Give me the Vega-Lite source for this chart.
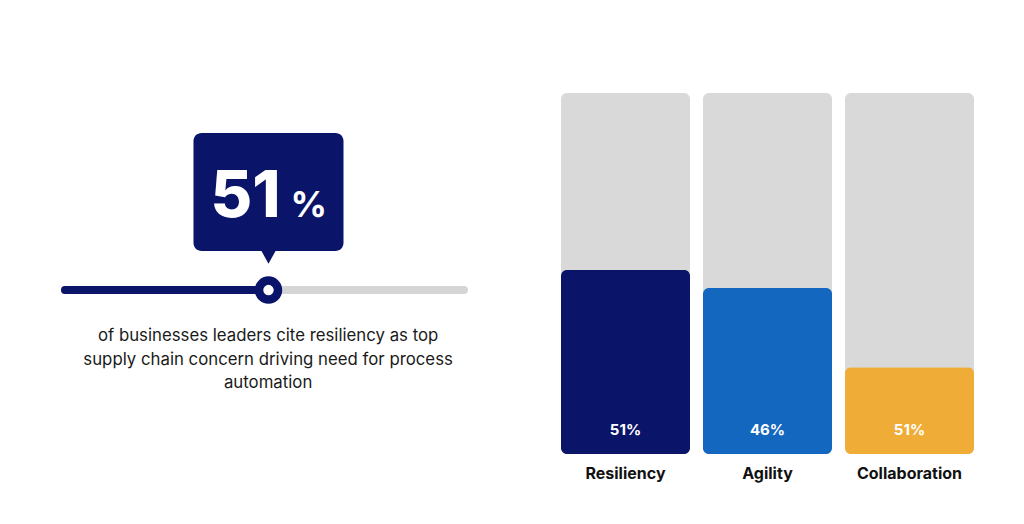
{
  "$schema": "https://vega.github.io/schema/vega-lite/v6.json",
  "background": "#ffffff",
  "padding": {"left": 60, "top": 93, "right": 50, "bottom": 20},
  "spacing": 92,
  "config": {"view": {"stroke": null}, "font": "Inter"},
  "hconcat": [
    {
      "width": 407,
      "height": 361,
      "data": {"values": [{"metric": "Resiliency", "value": 51, "caption": "of businesses leaders cite resiliency as top\nsupply chain concern driving need for process\nautomation"}]},
      "layer": [
        {
          "mark": {"type": "rule", "strokeWidth": 8, "strokeCap": "round", "color": "#D5D5D5"},
          "encoding": {
            "x": {"datum": 0, "type": "quantitative", "scale": {"domain": [-1, 101]}, "axis": null},
            "x2": {"datum": 100},
            "y": {"datum": 45.4, "type": "quantitative", "scale": {"domain": [0, 100]}, "axis": null}
          }
        },
        {
          "mark": {"type": "rule", "strokeWidth": 8, "strokeCap": "round", "color": "#0A1469"},
          "encoding": {
            "x": {"field": "value", "type": "quantitative", "scale": {"domain": [-1, 101]}, "axis": null},
            "x2": {"datum": 0},
            "y": {"datum": 45.4, "type": "quantitative", "scale": {"domain": [0, 100]}, "axis": null}
          }
        },
        {
          "mark": {"type": "point", "shape": "circle", "filled": true, "fill": "#ffffff", "stroke": "#0A1469", "strokeWidth": 8.5, "size": 360, "opacity": 1},
          "encoding": {
            "x": {"field": "value", "type": "quantitative", "scale": {"domain": [-1, 101]}, "axis": null},
            "y": {"datum": 45.4, "type": "quantitative", "scale": {"domain": [0, 100]}, "axis": null}
          }
        },
        {
          "mark": {"type": "rect", "cornerRadius": 8, "color": "#0A1469"},
          "encoding": {
            "x": {"datum": 32.2, "type": "quantitative", "scale": {"domain": [-1, 101]}, "axis": null},
            "x2": {"datum": 69.8},
            "y": {"datum": 56.2, "type": "quantitative", "scale": {"domain": [0, 100]}, "axis": null},
            "y2": {"datum": 88.9}
          }
        },
        {
          "mark": {"type": "point", "shape": "M-1,-0.9L1,-0.9L0,0.9Z", "filled": true, "color": "#0A1469", "size": 225, "opacity": 1},
          "encoding": {
            "x": {"field": "value", "type": "quantitative", "scale": {"domain": [-1, 101]}, "axis": null},
            "y": {"datum": 54.6, "type": "quantitative", "scale": {"domain": [0, 100]}, "axis": null}
          }
        },
        {
          "mark": {"type": "text", "align": "right", "baseline": "alphabetic", "dx": 12, "fontSize": 64, "fontWeight": 800, "color": "#ffffff"},
          "encoding": {
            "x": {"field": "value", "type": "quantitative", "scale": {"domain": [-1, 101]}, "axis": null},
            "y": {"datum": 65.7, "type": "quantitative", "scale": {"domain": [0, 100]}, "axis": null},
            "text": {"field": "value", "type": "quantitative"}
          }
        },
        {
          "mark": {"type": "text", "align": "left", "baseline": "alphabetic", "dx": 22, "fontSize": 36, "fontWeight": 700, "color": "#ffffff", "text": "%"},
          "encoding": {
            "x": {"field": "value", "type": "quantitative", "scale": {"domain": [-1, 101]}, "axis": null},
            "y": {"datum": 65.7, "type": "quantitative", "scale": {"domain": [0, 100]}, "axis": null}
          }
        },
        {
          "mark": {"type": "text", "align": "center", "baseline": "alphabetic", "fontSize": 16.8, "lineHeight": 23.5, "lineBreak": "\n", "color": "#1a1a1a"},
          "encoding": {
            "x": {"datum": 50.9, "type": "quantitative", "scale": {"domain": [-1, 101]}, "axis": null},
            "y": {"datum": 31.3, "type": "quantitative", "scale": {"domain": [0, 100]}, "axis": null},
            "text": {"field": "caption", "type": "nominal"}
          }
        }
      ]
    },
    {
      "width": 413,
      "height": 361,
      "data": {"values": [
        {"category": "Resiliency", "value": 51, "label": "51%"},
        {"category": "Agility", "value": 46, "label": "46%"},
        {"category": "Collaboration", "value": 24, "label": "51%"}
      ]},
      "layer": [
        {
          "mark": {"type": "bar", "cornerRadius": 6, "color": "#D9D9D9"},
          "encoding": {
            "x": {
              "field": "category", "type": "nominal", "sort": null,
              "scale": {"paddingInner": 0.0915, "paddingOuter": 0},
              "axis": {"title": null, "labelAngle": 0, "ticks": false, "domain": false, "labelPadding": 11, "labelFontSize": 16, "labelFontWeight": 700, "labelColor": "#111111", "labelFont": "Inter"}
            },
            "y": {"datum": 100, "type": "quantitative", "scale": {"domain": [0, 100]}, "axis": null}
          }
        },
        {
          "mark": {"type": "bar", "cornerRadius": 6},
          "encoding": {
            "x": {"field": "category", "type": "nominal", "sort": null},
            "y": {"field": "value", "type": "quantitative", "scale": {"domain": [0, 100]}, "axis": null},
            "color": {"field": "category", "type": "nominal", "legend": null,
              "scale": {"domain": ["Resiliency", "Agility", "Collaboration"], "range": ["#0A1469", "#1467BF", "#EFAD38"]}}
          }
        },
        {
          "mark": {"type": "text", "baseline": "alphabetic", "dy": -19, "fontSize": 15, "fontWeight": 700, "color": "#ffffff"},
          "encoding": {
            "x": {"field": "category", "type": "nominal", "sort": null},
            "y": {"datum": 0, "type": "quantitative", "scale": {"domain": [0, 100]}, "axis": null},
            "text": {"field": "label", "type": "nominal"}
          }
        }
      ]
    }
  ]
}
